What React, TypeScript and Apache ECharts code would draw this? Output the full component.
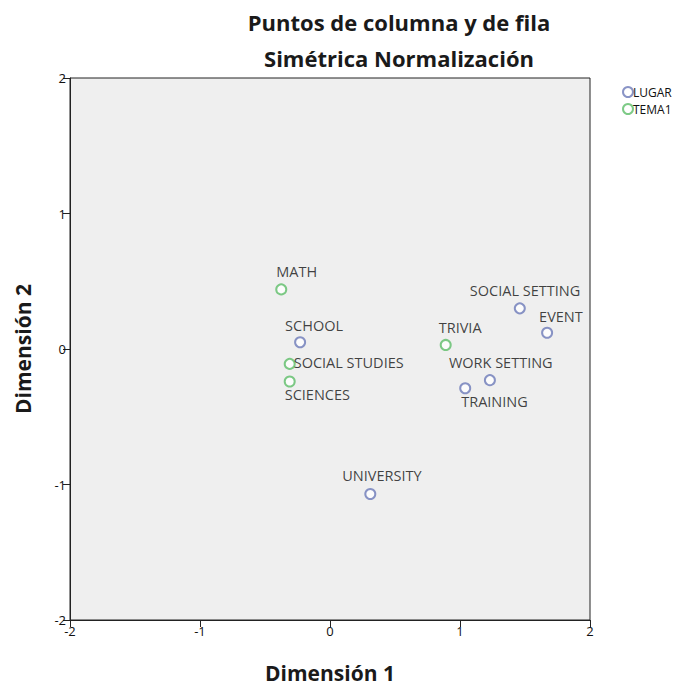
import React, { useEffect, useRef } from "react";
import * as echarts from "echarts";

// LUGAR (row points)
const lugarNames = ["SCHOOL", "SOCIAL SETTING", "EVENT", "WORK SETTING", "TRAINING", "UNIVERSITY"];
const lugarX = [-0.23, 1.46, 1.67, 1.23, 1.04, 0.31];
const lugarY = [0.05, 0.3, 0.12, -0.23, -0.29, -1.07];

// TEMA1 (column points)
const temaNames = ["MATH", "SOCIAL STUDIES", "SCIENCES", "TRIVIA"];
const temaX = [-0.375, -0.31, -0.31, 0.89];
const temaY = [0.44, -0.11, -0.24, 0.03];

const axisTicks = [-2, -1, 0, 1, 2];

// label offsets (text left / text middle relative to point centre, px)
const labelOffsets: Record<string, [number, number]> = {
  SCHOOL: [-14, -16],
  "SOCIAL SETTING": [-49, -17],
  EVENT: [-7, -15],
  "WORK SETTING": [-40, -17],
  TRAINING: [-3, 14],
  UNIVERSITY: [-27, -17],
  MATH: [-4, -17],
  "SOCIAL STUDIES": [5, 0],
  SCIENCES: [-4, 14],
  TRIVIA: [-6, -16],
};

const SYMBOL = 10;
const FONT = "'Open Sans', 'DejaVu Sans', sans-serif";

function buildData(names: string[], xs: number[], ys: number[]) {
  return names.map((n, i) => {
    const [dx, dy] = labelOffsets[n] || [0, -15];
    return {
      name: n,
      value: [xs[i], ys[i]],
      label: {
        show: true,
        formatter: n,
        position: [dx + SYMBOL / 2, dy + SYMBOL / 2],
        align: "left",
        verticalAlign: "middle",
      },
    };
  });
}

export default function App() {
  const ref = useRef<HTMLDivElement>(null);
  useEffect(() => {
    if (!ref.current) return;
    const chart = echarts.init(ref.current, undefined, { renderer: "svg" });
    const axisCommon = {
      type: "value" as const,
      min: -2,
      max: 2,
      interval: 1,
      axisLine: { show: true, onZero: false, lineStyle: { color: "#222", width: 1 } },
      axisTick: { show: true, inside: false, length: 7, lineStyle: { color: "#222" } },
      axisLabel: { color: "#111", fontSize: 13, fontFamily: FONT, margin: 4 },
      splitLine: { show: false },
      nameLocation: "middle" as const,
      nameTextStyle: { fontSize: 21, fontWeight: "bold" as const, color: "#1a1a1a", fontFamily: FONT },
    };
    const titleStyle = {
      fontSize: 22,
      fontWeight: "bold",
      fontFamily: FONT,
      fill: "#1a1a1a",
      align: "center",
      verticalAlign: "middle",
    };
    chart.setOption({
      animation: false,
      backgroundColor: "#fff",
      textStyle: { fontFamily: FONT },
      graphic: [
        { type: "text", x: 399, y: 22, style: { ...titleStyle, text: "Puntos de columna y de fila" } },
        { type: "text", x: 399, y: 58, style: { ...titleStyle, text: "Simétrica Normalización" } },
      ],
      legend: {
        orient: "vertical",
        left: 622,
        top: 86,
        padding: 0,
        itemWidth: 10,
        itemHeight: 10,
        itemGap: 5,
        icon: "emptyCircle",
        textStyle: { fontSize: 12, color: "#111", fontFamily: FONT, lineHeight: 10, padding: [0, 0, 0, -5] },
        data: ["LUGAR", "TEMA1"],
      },
      grid: {
        left: 70,
        right: 90,
        top: 78,
        bottom: 62,
        show: true,
        backgroundColor: "#efefef",
        borderColor: "#222",
        borderWidth: 1,
      },
      xAxis: {
        ...axisCommon,
        name: "Dimensión 1",
        nameGap: 42,
        axisLabel: { ...axisCommon.axisLabel, formatter: (v: number) => (axisTicks.includes(v) ? String(v) : "") },
      },
      yAxis: {
        ...axisCommon,
        name: "Dimensión 2",
        nameGap: 37,
        nameRotate: 90,
      },
      series: [
        {
          name: "LUGAR",
          type: "scatter",
          symbol: "emptyCircle",
          symbolSize: SYMBOL,
          itemStyle: { color: "#6b79b8", borderWidth: 1.5 },
          label: { color: "#111", fontSize: 14.5, fontFamily: FONT },
          data: buildData(lugarNames, lugarX, lugarY),
        },
        {
          name: "TEMA1",
          type: "scatter",
          symbol: "emptyCircle",
          symbolSize: SYMBOL,
          itemStyle: { color: "#5cbd68", borderWidth: 1.5 },
          label: { color: "#111", fontSize: 14.5, fontFamily: FONT },
          data: buildData(temaNames, temaX, temaY),
        },
      ],
    });
    return () => chart.dispose();
  }, []);
  return (
    <div
      ref={ref}
      style={{ position: "absolute", left: 0, top: 0, width: 680, height: 688 }}
    />
  );
}
